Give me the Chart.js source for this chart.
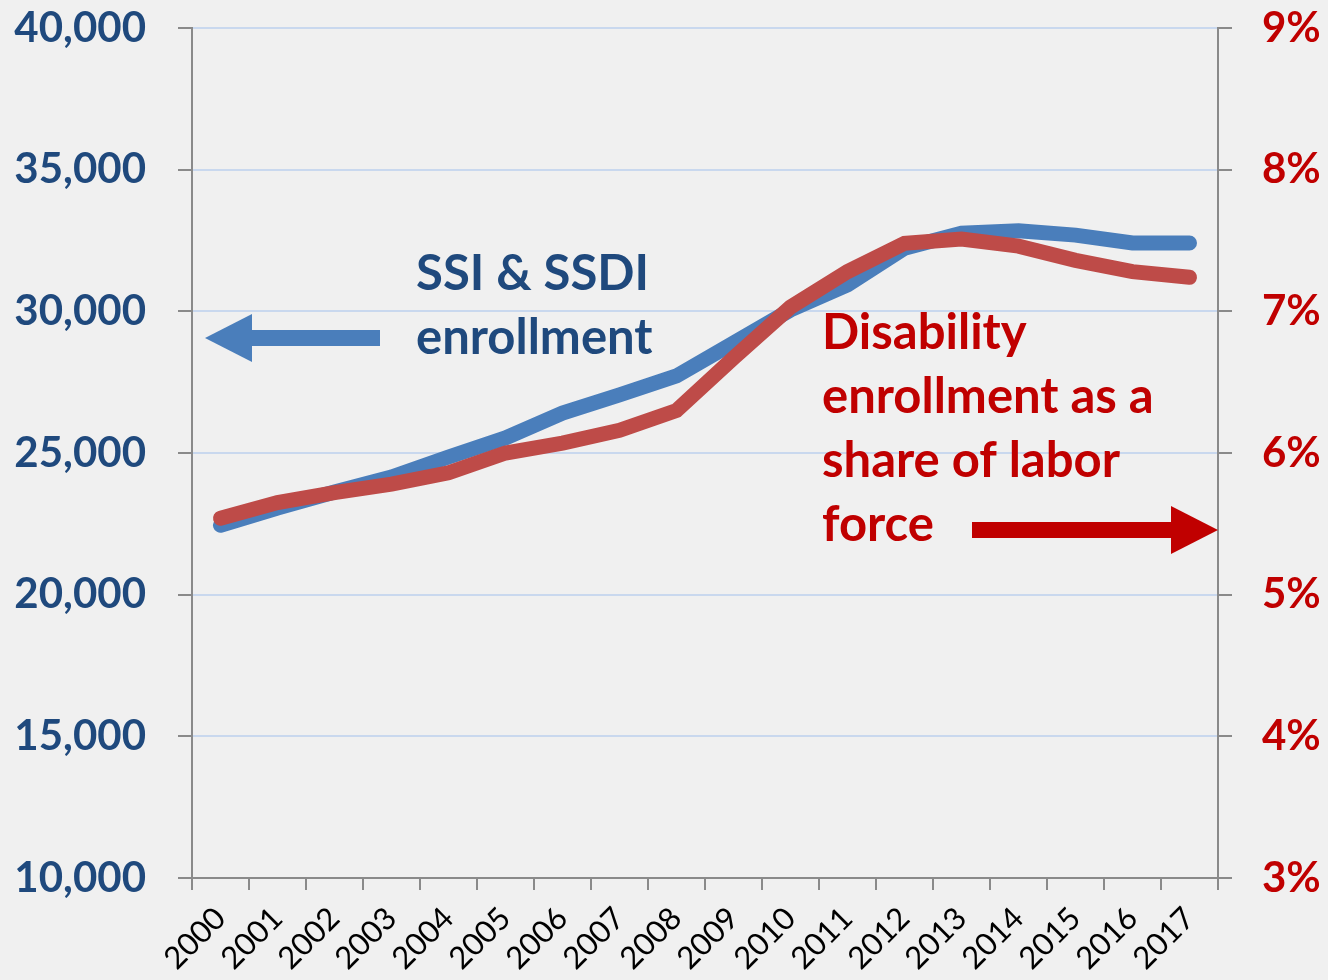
<!DOCTYPE html>
<html>
<head>
<meta charset="utf-8">
<script src="https://cdn.jsdelivr.net/npm/chart.js@4.4.1/dist/chart.umd.min.js"></script>
<style>
  html, body { margin: 0; padding: 0; background: #f0f0f0; }
  #wrap { width: 1328px; height: 980px; position: relative; }
</style>
</head>
<body>
<div id="wrap"><canvas id="chart"></canvas></div>
<script>
const years = ['2000', '2001', '2002', '2003', '2004', '2005', '2006', '2007', '2008',
  '2009', '2010', '2011', '2012', '2013', '2014', '2015', '2016', '2017']

// SSI & SSDI enrollment, thousands (left axis)
const enrollment = [22450, 23060, 23620, 24150, 24860, 25530, 26410, 27050, 27720,
  28880, 30050, 30930, 32230, 32760, 32840, 32690, 32410, 32410]

// disability enrollment as % of labor force (right axis)
const laborShare = [5.54, 5.65, 5.72, 5.78, 5.86, 6.00, 6.07, 6.16, 6.30,
  6.67, 7.03, 7.28, 7.48, 7.51, 7.46, 7.36, 7.28, 7.24]

const leftTicks = [10000, 15000, 20000, 25000, 30000, 35000, 40000]
const rightTicks = [3, 4, 5, 6, 7, 8, 9]

const BLUE_LINE = '#4a7ebb'
const RED_LINE = '#be4b48'
const BLUE_TEXT = '#1f497d'
const RED_TEXT = '#c00000'
const AXIS_GRAY = '#8a8a8a'
const FONT = 'Lato, "Open Sans", sans-serif'

function arrow(ctx, xTail, xTip, y, shaft, headLen, headHalf, color) {
  const dir = xTip > xTail ? 1 : -1
  const xBase = xTip - dir * headLen
  ctx.save()
  ctx.fillStyle = color
  ctx.fillRect(Math.min(xTail, xBase), y - shaft / 2, Math.abs(xBase - xTail), shaft)
  ctx.beginPath()
  ctx.moveTo(xTip, y)
  ctx.lineTo(xBase, y - headHalf)
  ctx.lineTo(xBase, y + headHalf)
  ctx.closePath()
  ctx.fill()
  ctx.restore()
}

// callout text + arrows pointing at each axis
const callouts = {
  id: 'callouts',
  afterDatasetsDraw(chart) {
    const { ctx, chartArea: a } = chart
    ctx.save()
    ctx.font = 'bold 49px ' + FONT
    ctx.textBaseline = 'alphabetic'
    ctx.textAlign = 'left'

    ctx.fillStyle = BLUE_TEXT
    ctx.fillText('SSI & SSDI', a.left + 224, a.top + 262)
    ctx.fillText('enrollment', a.left + 224, a.top + 326)
    arrow(ctx, a.left + 188, a.left + 13, a.top + 310, 16, 47, 24, BLUE_LINE)

    ctx.fillStyle = RED_TEXT
    const lines = ['Disability', 'enrollment as a', 'share of labor', 'force']
    lines.forEach((t, i) => ctx.fillText(t, a.left + 630, a.top + 321 + i * 64))
    arrow(ctx, a.left + 780, a.right, a.top + 502, 16, 47, 24, RED_TEXT)
    ctx.restore()
  },
}

// fixed axis boxes; no extra room for label overhang
function fitBox(size, vertical) {
  return s => {
    if (vertical) s.width = size
    else s.height = size
    s.paddingTop = 0
    s.paddingBottom = 0
    s.paddingLeft = 0
    s.paddingRight = 0
  }
}

new Chart(document.getElementById('chart'), {
  type: 'line',
  data: {
    labels: years,
    datasets: [
      {
        label: 'SSI & SSDI enrollment',
        data: enrollment,
        yAxisID: 'y',
        borderColor: BLUE_LINE,
        borderWidth: 15,
        borderCapStyle: 'round',
        borderJoinStyle: 'miter',
        pointRadius: 0,
        order: 2,
      },
      {
        label: 'Disability enrollment as a share of labor force',
        data: laborShare,
        yAxisID: 'y2',
        borderColor: RED_LINE,
        borderWidth: 15,
        borderCapStyle: 'round',
        borderJoinStyle: 'miter',
        pointRadius: 0,
        order: 1,
      },
    ],
  },
  options: {
    responsive: true,
    maintainAspectRatio: false,
    animation: false,
    layout: { padding: { top: 28, left: 0, right: 0, bottom: 0 } },
    plugins: { legend: { display: false }, tooltip: { enabled: false } },
    scales: {
      x: {
        offset: true,
        grid: { offset: true, drawOnChartArea: false, color: AXIS_GRAY, tickColor: AXIS_GRAY, tickLength: 12, lineWidth: 2 },
        border: { color: AXIS_GRAY, width: 2 },
        ticks: {
          color: '#000',
          font: { family: FONT, size: 31 },
          minRotation: 45,
          maxRotation: 45,
          padding: 10,
          autoSkip: false,
        },
        afterFit: fitBox(102, false),
      },
      y: {
        position: 'left',
        min: 10000,
        max: 40000,
        afterBuildTicks: s => { s.ticks = leftTicks.map(v => ({ value: v })) },
        grid: { color: '#c9d8ee', tickColor: AXIS_GRAY, tickLength: 14, lineWidth: 2 },
        border: { color: AXIS_GRAY, width: 2 },
        ticks: {
          color: BLUE_TEXT,
          font: { family: FONT, size: 42, weight: 'bold' },
          padding: 32,
          callback: v => v.toLocaleString('en-US'),
        },
        afterFit: fitBox(192, true),
      },
      y2: {
        position: 'right',
        min: 3,
        max: 9,
        afterBuildTicks: s => { s.ticks = rightTicks.map(v => ({ value: v })) },
        grid: { drawOnChartArea: false, tickColor: AXIS_GRAY, tickLength: 14, lineWidth: 2 },
        border: { color: AXIS_GRAY, width: 2 },
        ticks: {
          color: RED_TEXT,
          font: { family: FONT, size: 42, weight: 'bold' },
          padding: 30,
          callback: v => v + '%',
        },
        afterFit: fitBox(110, true),
      },
    },
  },
  plugins: [callouts],
})
</script>
</body>
</html>
